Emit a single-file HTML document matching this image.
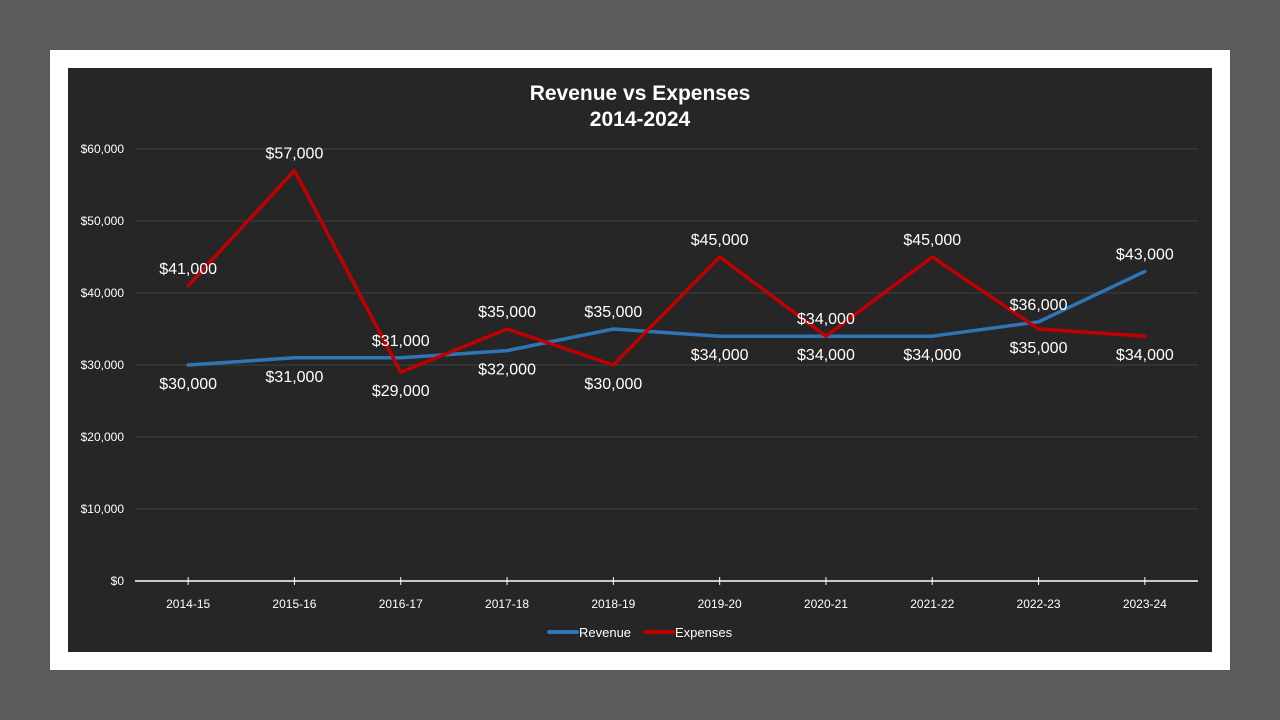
<!DOCTYPE html>
<html><head><meta charset="utf-8"><style>
html,body{margin:0;padding:0;background:#5b5b5b;width:1280px;height:720px;overflow:hidden;font-family:"Liberation Sans",Arial,sans-serif}
</style></head><body>
<svg id="chart" width="1280" height="720" xmlns="http://www.w3.org/2000/svg">
<rect x="0" y="0" width="1280" height="720" fill="#5b5b5b"/>
<rect x="50" y="50" width="1180" height="620" fill="#ffffff"/>
<rect x="68" y="68" width="1144" height="584" fill="#262626"/>
<text x="640" y="100" text-anchor="middle" fill="#fff" font-size="21" font-weight="bold">Revenue vs Expenses</text>
<text x="640" y="126" text-anchor="middle" fill="#fff" font-size="21" font-weight="bold">2014-2024</text>
<g id="grid"></g><g id="axes"></g><g id="series"></g><g id="labels"></g>
<g>
<line x1="549" y1="632" x2="577" y2="632" stroke="#2e75b6" stroke-width="4" stroke-linecap="round"/>
<text x="579" y="637" fill="#fff" font-size="13">Revenue</text>
<line x1="645" y1="632" x2="673" y2="632" stroke="#c00000" stroke-width="4" stroke-linecap="round"/>
<text x="675" y="637" fill="#fff" font-size="13">Expenses</text>
</g>
</svg>
<script>
const categories=["2014-15","2015-16","2016-17","2017-18","2018-19","2019-20","2020-21","2021-22","2022-23","2023-24"];
const revenue=[30000,31000,31000,32000,35000,34000,34000,34000,36000,43000];
const expenses=[41000,57000,29000,35000,30000,45000,34000,45000,35000,34000];
const revenueLabelPos=["below","below","above","below","above","below","below","below","above","above"];
const expensesLabelPos=["above","above","below","above","below","above","above","above","below","below"];
const yTicks=[0,10000,20000,30000,40000,50000,60000];
const NS="http://www.w3.org/2000/svg";
const x0=135,x1=1198,yBase=581,yTop=149,yMax=60000;
const step=(x1-x0)/categories.length;
const xs=i=>x0+step*(i+0.5);
const ys=v=>yBase-(v/yMax)*(yBase-yTop);
function mk(tag,attrs,parent){const e=document.createElementNS(NS,tag);for(const k in attrs)e.setAttribute(k,attrs[k]);document.getElementById(parent).appendChild(e);return e;}
const fmt=v=>"$"+v.toLocaleString("en-US");
yTicks.forEach(t=>{
 if(t>0){const g=mk("line",{x1:x0,x2:x1,y1:ys(t),y2:ys(t),stroke:"#404040","stroke-width":1},"grid");
 
 }
 const l=mk("text",{x:124,y:ys(t)+4,"text-anchor":"end",fill:"#fff","font-size":12},"axes");
 
 
 l.textContent=fmt(t);
});
const ax=mk("line",{x1:x0,x2:x1,y1:yBase,y2:yBase,stroke:"#fff","stroke-width":1.5},"axes");


categories.forEach((c,i)=>{
 const tk=mk("line",{x1:xs(i),x2:xs(i),y1:yBase-4,y2:yBase+4,stroke:"#fff","stroke-width":1},"axes");
 
 
 const l=mk("text",{x:xs(i),y:yBase+27,"text-anchor":"middle",fill:"#fff","font-size":12},"axes");
 
 
 l.textContent=c;
});
function series(vals,pos,color,name){
 const p=mk("polyline",{points:vals.map((v,i)=>xs(i)+","+ys(v)).join(" "),fill:"none",stroke:color,"stroke-width":3.5,"stroke-linejoin":"round","stroke-linecap":"round"},"series");
 
 
 vals.forEach((v,i)=>{
  const y=pos[i]==="above"?ys(v)-12:ys(v)+24;
  const t=mk("text",{x:xs(i),y:y,"text-anchor":"middle",fill:"#fff","font-size":16},"labels");
  
  
  t.textContent=fmt(v);
 });
}
series(revenue,revenueLabelPos,"#2e75b6","revenue");
series(expenses,expensesLabelPos,"#c00000","expenses");
</script>
</body></html>
